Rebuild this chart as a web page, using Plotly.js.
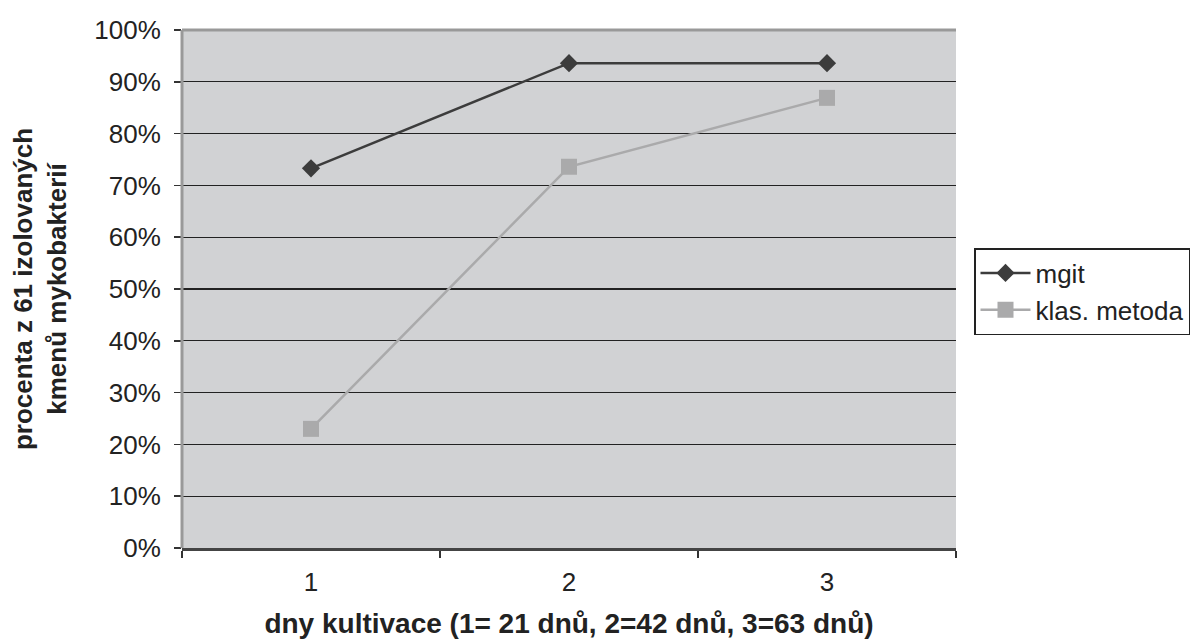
<!DOCTYPE html>
<html>
<head>
<meta charset="utf-8">
<script src="https://cdn.plot.ly/plotly-3.0.1.min.js"></script>
<style>html,body{margin:0;padding:0;background:#fff;}#chart{width:1204px;height:639px;}</style>
</head>
<body>
<div id="chart"></div>
<script>
const categories = ['1', '2', '3'];
const mgit = [0.733, 0.936, 0.936];
const klasMetoda = [0.23, 0.736, 0.869];
const seriesNames = ['mgit', 'klas. metoda'];

const traces = [
  {
    x: categories, y: mgit, name: seriesNames[0], type: 'scatter', mode: 'lines+markers',
    line: {color: '#3c3c3c', width: 2.5},
    marker: {symbol: 'diamond', size: 14, color: '#3c3c3c'}
  },
  {
    x: categories, y: klasMetoda, name: seriesNames[1], type: 'scatter', mode: 'lines+markers',
    line: {color: '#aaaaab', width: 2.5},
    marker: {symbol: 'square', size: 16, color: '#aaaaab'}
  }
];

const layout = {
  width: 1204, height: 639,
  margin: {l: 182, r: 248, t: 30, b: 91},
  paper_bgcolor: '#ffffff',
  plot_bgcolor: '#d1d2d4',
  font: {family: 'Liberation Sans, Arial, sans-serif', color: '#222', size: 26},
  showlegend: true,
  legend: {
    font: {size: 26, color: '#222'},
    bordercolor: '#222', borderwidth: 1.5, bgcolor: '#ffffff',
    tracegroupgap: 0, itemwidth: 50
  },
  xaxis: {
    type: 'category', range: [-0.5, 2.5],
    tickson: 'boundaries', ticks: 'outside', ticklen: 7, tickcolor: '#333', tickwidth: 1.5,
    showgrid: false, zeroline: false,
    showline: true, linecolor: '#444', linewidth: 2.5,
    tickfont: {size: 26, color: '#222'},
    ticklabelstandoff: 9,
    title: {text: '<b>dny kultivace (1= 21 dnů, 2=42 dnů, 3=63 dnů)</b>', font: {size: 28, color: '#222'}, standoff: 20}
  },
  yaxis: {
    range: [0, 1], dtick: 0.1, tickformat: '.0%',
    ticks: 'outside', ticklen: 7, tickcolor: '#333', tickwidth: 1.5,
    showgrid: true, gridcolor: '#222', gridwidth: 1.2,
    zeroline: false, showline: false,
    tickfont: {size: 26, color: '#222'},
    ticklabelstandoff: 8,
    title: {text: '<b>procenta z 61 izolovaných<br>kmenů mykobakterií</b>', font: {size: 26, color: '#222'}, standoff: 20}
  },
  shapes: [
    {type: 'line', xref: 'paper', yref: 'paper', x0: 0, x1: 1, y0: 1, y1: 1, line: {color: '#999999', width: 3}},
    {type: 'line', xref: 'paper', yref: 'paper', x0: 0, x1: 0, y0: 0, y1: 1, line: {color: '#999999', width: 3}}
  ]
};
layout.legend.x = (974 - 182) / 774;
layout.legend.y = (639 - 91 - 248) / 518;
layout.legend.yanchor = 'top';
layout.legend.xanchor = 'left';

Plotly.newPlot('chart', traces, layout, {displayModeBar: false, staticPlot: true});
</script>
</body>
</html>
